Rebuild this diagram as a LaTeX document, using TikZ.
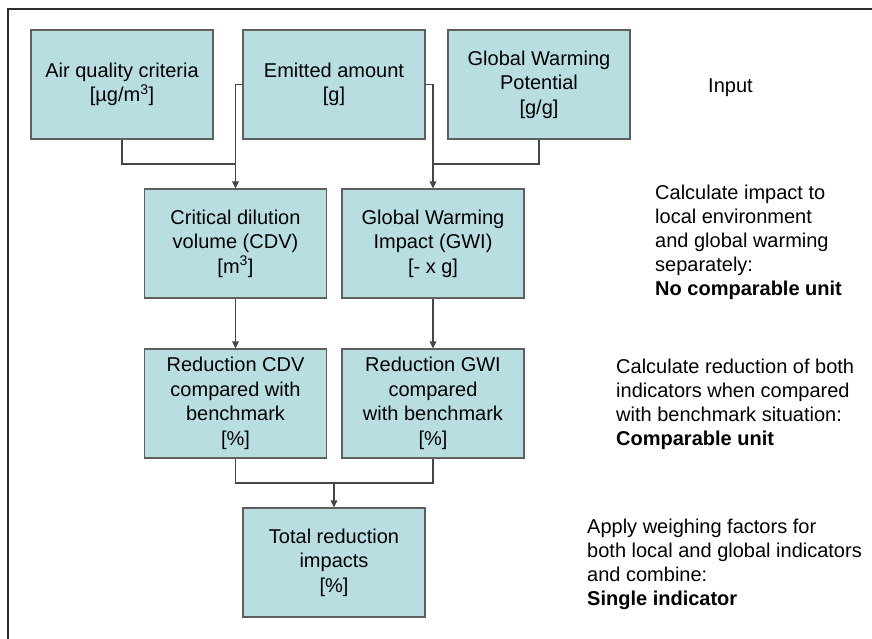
\documentclass[tikz,border=0pt]{standalone}
\usepackage{fontspec}
\setmainfont{Liberation Sans}
\usetikzlibrary{arrows.meta,calc}
\definecolor{boxfill}{RGB}{185,222,226}
\definecolor{boxline}{RGB}{95,95,95}
\definecolor{conline}{RGB}{70,70,70}
\definecolor{frameline}{RGB}{45,45,45}
\tikzset{
  stage/.style={draw=boxline, line width=1.1pt, fill=boxfill, rectangle,
    minimum width=182pt, minimum height=109pt, inner sep=0pt, align=center,
    font=\fontsize{20}{24.5}\selectfont},
  note/.style={anchor=base west, inner sep=0pt, align=left,
    font=\fontsize{20}{24}\selectfont},
  con/.style={draw=conline, line width=1.1pt},
  arr/.style={con, -{Triangle[width=6.5pt,length=7pt]}}
}
\begin{document}
\begin{tikzpicture}[x=1pt,y=-1pt]
\useasboundingbox (0,0) rectangle (872,639);
\draw[frameline, line width=1.6pt] (8,650) -- (8,9) -- (885,9);

\node[stage] (aq)  at (122,84.5)   {Air quality criteria\\{}[µg/m\textsuperscript{3}]};
\node[stage] (em)  at (334,84.5)   {Emitted amount\\{}[g]};
\node[stage] (gwp) at (539,84.5)   {Global Warming\\Potential\\{}[g/g]};
\node[stage] (cdv) at (235.5,243.5) {Critical dilution\\volume (CDV)\\{}[m\textsuperscript{3}]};
\node[stage] (gwi) at (433,243.5)  {Global Warming\\Impact (GWI)\\{}[- x g]};
\node[stage] (rcdv) at (235.5,403.5) {Reduction CDV\\compared with\\benchmark\\{}[\%]};
\node[stage] (rgwi) at (433,403.5)  {Reduction GWI\\compared\\with benchmark\\{}[\%]};
\node[stage] (tot) at (334,562.5)  {Total reduction\\impacts\\{}[\%]};

\coordinate (mid1) at (0,164);
\coordinate (mid2) at (0,483);

\draw[con] (aq.south) |- (mid1 -| cdv.north);
\draw[arr] (em.west) -| (cdv.north);
\draw[arr] (em.east) -| (gwi.north);
\draw[con] (gwp.south) |- (mid1 -| gwi.north);
\draw[arr] (cdv.south) -- (rcdv.north);
\draw[arr] (gwi.south) -- (rgwi.north);
\draw[con] (rcdv.south) |- (mid2 -| rgwi.south) -- (rgwi.south);
\draw[arr] (mid2 -| tot.north) -- (tot.north);

% anchor base west = baseline of the last line
\node[note] (n0) at (708,93) {Input};
\node[note] (n1) at (655,295.5) {Calculate impact to\\local environment\\and global warming\\separately:\\\textbf{No comparable unit}};
\node[note] (n2) at (616,445.3) {Calculate reduction of both\\indicators when compared\\with benchmark situation:\\\textbf{Comparable unit}};
\node[note] (n3) at (587,605.3) {Apply weighing factors for\\both local and global indicators\\and combine:\\\textbf{Single indicator}};
\end{tikzpicture}
\end{document}
